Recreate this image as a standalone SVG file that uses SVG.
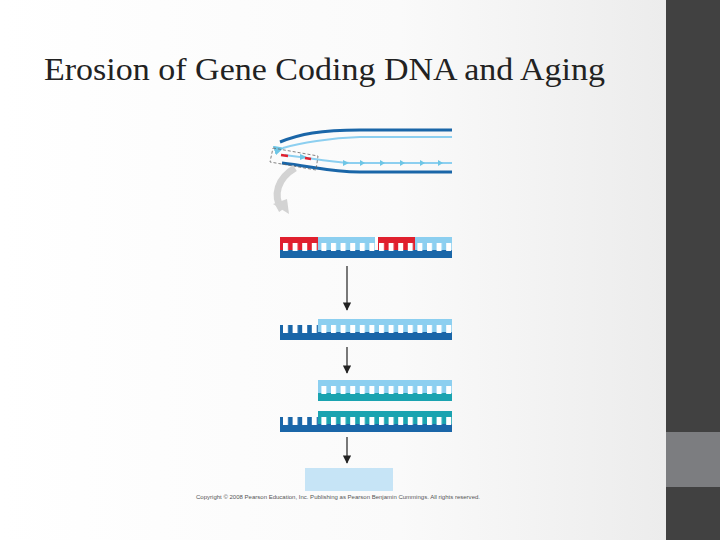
<svg xmlns="http://www.w3.org/2000/svg" width="720" height="540" viewBox="0 0 720 540">
<defs>
<linearGradient id="bg" x1="0" y1="0" x2="1" y2="0"><stop offset="0" stop-color="#ffffff"/><stop offset="0.6" stop-color="#fafafa"/><stop offset="1" stop-color="#ececec"/></linearGradient>
<pattern id="gap" patternUnits="userSpaceOnUse" x="283" y="0" width="9.6" height="540"><rect x="0" y="0" width="5" height="540" fill="#fff"/></pattern>
<marker id="ah" viewBox="0 0 10 10" refX="9" refY="5" markerWidth="7" markerHeight="7" orient="auto"><path d="M0,0 L10,5 L0,10 z" fill="#222"/></marker>
<marker id="lb" viewBox="0 0 10 10" refX="9" refY="5" markerWidth="5" markerHeight="5" orient="auto"><path d="M0,0 L10,5 L0,10 z" fill="#6ec6e6"/></marker>
<style>.dk{fill:#1a66a8}.lt{fill:#8ccff0}.rd{fill:#e0202e}.tl{fill:#1aa3b0}.arr{stroke:#222;stroke-width:1.2;fill:none}</style>
</defs>
<rect width="666" height="540" fill="url(#bg)"/>
<rect x="666" y="0" width="54" height="540" fill="#414141"/>
<rect x="666" y="432" width="54" height="55" fill="#7c7d80"/>
<text x="44" y="80" font-family="Liberation Serif, serif" font-size="31" fill="#222" textLength="561" lengthAdjust="spacingAndGlyphs">Erosion of Gene Coding DNA and Aging</text>
<g id="overview">
<path d="M280,142 C300,134 320,130 360,130 L452,130" stroke="#1a66a8" stroke-width="3" fill="none"/>
<path d="M283,148 C300,143 330,138 360,137 L452,137" stroke="#8ccff0" stroke-width="2" fill="none" marker-start="url(#lb)"/>
<path d="M285,155 C310,158 330,162 350,163 L452,163" stroke="#8ccff0" stroke-width="2" fill="none"/>
<g fill="#6ec6e6"><path d="M300,154 l7,3 l-7,3z"/><path d="M343,160 l6,3 l-6,3z"/><path d="M360,160 l5,3 l-5,3z"/><path d="M380,160 l5,3 l-5,3z"/><path d="M400,160 l5,3 l-5,3z"/><path d="M420,160 l5,3 l-5,3z"/><path d="M438,160 l5,3 l-5,3z"/></g>
<path d="M281,155 l7,1" stroke="#e0202e" stroke-width="2.5"/>
<path d="M305,158 l6,1" stroke="#e0202e" stroke-width="2.5"/>
<path d="M282,163 C310,166 330,172 360,172 L452,172" stroke="#1a66a8" stroke-width="3" fill="none"/>
<path d="M273,148 L318,156 L316,170 L270,162 Z" stroke="#666" stroke-width="0.8" stroke-dasharray="3,2" fill="none"/>
<path d="M295,168 C278,178 272,195 282,210" stroke="#d3d3d3" stroke-width="7" fill="none"/>
<path d="M273,204 L289,214 L287,199 Z" fill="#d3d3d3"/>
</g>
<g id="strand1">
<rect x="280" y="237" width="38" height="13" class="rd"/><rect x="318" y="237" width="57" height="13" class="lt"/><rect x="378" y="237" width="37" height="13" class="rd"/><rect x="415" y="237" width="37" height="13" class="lt"/>
<rect x="280" y="250" width="172" height="8" class="dk"/>
<rect x="280" y="243" width="172" height="8" fill="url(#gap)"/>
<rect x="375" y="237" width="3" height="7" fill="#fff"/>
</g>
<g id="strand2">
<rect x="318" y="319" width="134" height="13" class="lt"/>
<rect x="280" y="325" width="38" height="7" class="dk"/>
<rect x="280" y="332" width="172" height="8" class="dk"/>
<rect x="280" y="325" width="172" height="8" fill="url(#gap)"/>
</g>
<g id="strand3">
<rect x="318" y="380" width="134" height="13" class="lt"/>
<rect x="318" y="393" width="134" height="8" class="tl"/>
<rect x="318" y="386" width="134" height="8" fill="url(#gap)"/>
</g>
<g id="strand4">
<rect x="318" y="411" width="134" height="13" class="tl"/>
<rect x="280" y="417" width="38" height="7" class="dk"/>
<rect x="280" y="424" width="172" height="8" class="dk"/>
<rect x="280" y="417" width="172" height="8" fill="url(#gap)"/>
</g>
<g id="result"><rect x="305" y="468" width="88" height="23" fill="#c6e4f6"/></g>
<g id="connectors">
<line x1="347" y1="266" x2="347" y2="310" class="arr" marker-end="url(#ah)"/>
<line x1="347" y1="347" x2="347" y2="373" class="arr" marker-end="url(#ah)"/>
<line x1="347" y1="437" x2="347" y2="463" class="arr" marker-end="url(#ah)"/>
</g>
<text x="196" y="499" font-family="Liberation Sans, sans-serif" font-size="5.8" fill="#555" textLength="284" lengthAdjust="spacingAndGlyphs">Copyright © 2008 Pearson Education, Inc. Publishing as Pearson Benjamin Cummings. All rights reserved.</text>
</svg>
